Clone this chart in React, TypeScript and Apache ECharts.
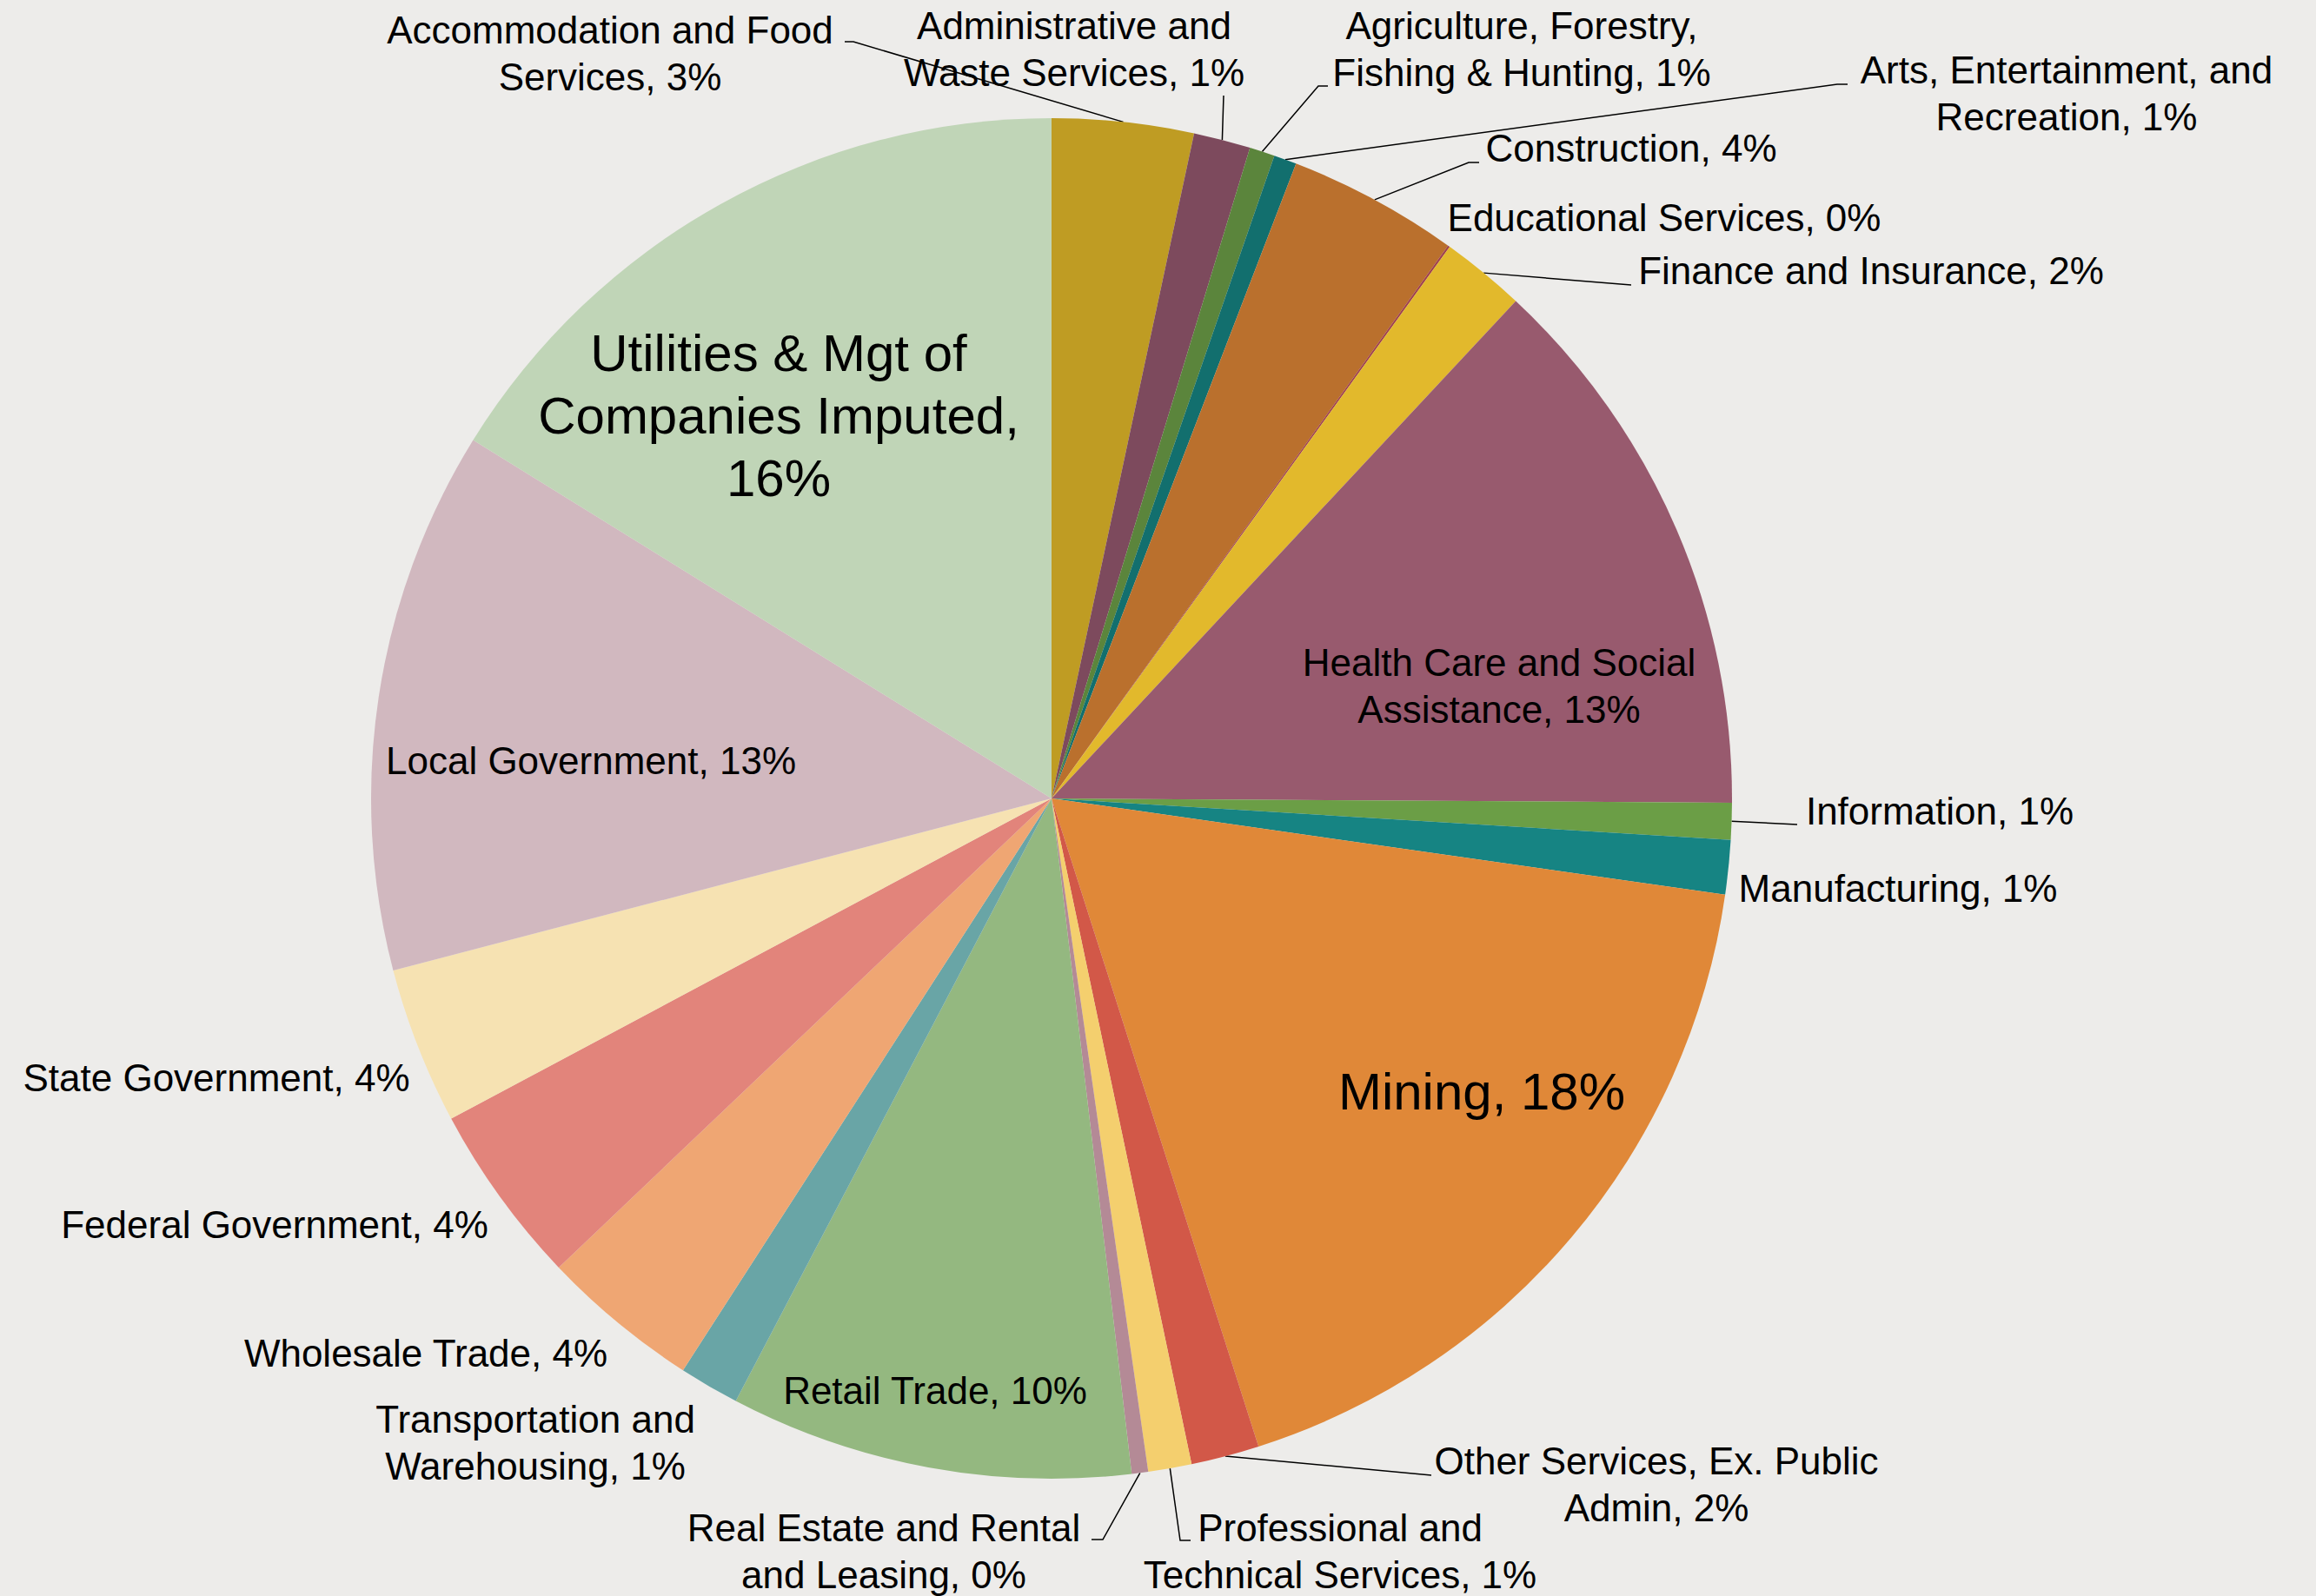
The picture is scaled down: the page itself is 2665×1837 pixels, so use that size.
import React, { useEffect, useRef } from "react";
import * as echarts from "echarts";

// ---- data ----
const categories = [
  "Accommodation and Food Services",
  "Administrative and Waste Services",
  "Agriculture, Forestry, Fishing & Hunting",
  "Arts, Entertainment, and Recreation",
  "Construction",
  "Educational Services",
  "Finance and Insurance",
  "Health Care and Social Assistance",
  "Information",
  "Manufacturing",
  "Mining",
  "Other Services, Ex. Public Admin",
  "Professional and Technical Services",
  "Real Estate and Rental and Leasing",
  "Retail Trade",
  "Transportation and Warehousing",
  "Wholesale Trade",
  "Federal Government",
  "State Government",
  "Local Government",
  "Utilities & Mgt of Companies Imputed",
];

// share of total, percent
const shares = [
  3.36, 1.35, 0.6, 0.54, 4.05, 0.05, 2.0, 13.15, 0.87, 1.29, 17.82, 1.62, 1.03,
  0.39, 9.56, 1.43, 3.78, 4.31, 3.73, 12.9, 16.17,
];

// label text as wrapped in the picture
const labelNames = [
  "Accommodation and Food\nServices",
  "Administrative and\nWaste Services",
  "Agriculture, Forestry,\nFishing & Hunting",
  "Arts, Entertainment, and\nRecreation",
  "Construction",
  "Educational Services",
  "Finance and Insurance",
  "Health Care and Social\nAssistance",
  "Information",
  "Manufacturing",
  "Mining",
  "Other Services, Ex. Public\nAdmin",
  "Professional and\nTechnical Services",
  "Real Estate and Rental\nand Leasing",
  "Retail Trade",
  "Transportation and\nWarehousing",
  "Wholesale Trade",
  "Federal Government",
  "State Government",
  "Local Government",
  "Utilities & Mgt of\nCompanies Imputed",
];

// ---- styles / layout ----
const colors = [
  "#BF9C23", "#7D4A5D", "#5B853C", "#126F6E", "#BA702D", "#A0414D", "#E2B92C",
  "#985A6E", "#6B9E46", "#168483", "#E08838", "#D25848", "#F4CF6E", "#B48A96",
  "#94B880", "#69A5A6", "#EFA673", "#E2847B", "#F6E2B2", "#D1B8BF", "#C0D5B7",
];
const bigLabel = [10, 20];
const insideLabel = [7, 10, 14, 19, 20];
const pctOnNewLine = [20];

const CX = 1210;
const CY = 919;
const R = 783;

const labelPos: number[][] = [
  [702, 61], [1236, 56], [1751, 56], [2378, 107], [1877, 170], [1915, 250],
  [2153, 311], [1725, 789], [2232, 933], [2184, 1022], [1705, 1256],
  [1906, 1708], [1542, 1785], [1017, 1785], [1076, 1600], [616, 1660],
  [490, 1557], [316, 1409], [249, 1240], [680, 875], [896, 478],
];

// leader-line points after the slice edge (null = no leader line)
const leaderPts: (number[][] | null)[] = [
  [[982, 48], [972, 48]],
  [[1408, 110]],
  [[1517, 99], [1528, 99]],
  [[2114, 97], [2126, 97]],
  [[1690, 187], [1702, 187]],
  null,
  [[1877, 328]],
  null,
  [[2068, 949]],
  null,
  null,
  [[1647, 1698]],
  [[1358, 1773], [1370, 1773]],
  [[1269, 1772], [1256, 1772]],
  null,
  null,
  null,
  null,
  null,
  null,
  null,
];

const FONT = "'Liberation Sans', Arial, sans-serif";

function edgePoint(i: number): number[] {
  const total = shares.reduce((a, b) => a + b, 0);
  let cum = 0;
  for (let k = 0; k < i; k++) cum += shares[k];
  const mid = ((cum + shares[i] / 2) / total) * Math.PI * 2;
  return [CX + R * Math.sin(mid), CY - R * Math.cos(mid)];
}

export default function App() {
  const ref = useRef<HTMLDivElement>(null);
  useEffect(() => {
    if (!ref.current) return;
    const chart = echarts.init(ref.current, undefined, { renderer: "svg" });
    const data = categories.map((name, i) => {
      const big = bigLabel.includes(i);
      const inside = insideLabel.includes(i);
      return {
        name,
        value: shares[i],
        itemStyle: { color: colors[i] },
        label: {
          position: inside ? "inside" : "outside",
          fontSize: big ? 60 : 44,
          lineHeight: big ? 72 : 54,
        },
        labelLine: { show: !!leaderPts[i] },
      };
    });
    chart.setOption({
      animation: false,
      backgroundColor: "#EDECEA",
      series: [
        {
          type: "pie",
          center: [CX, CY],
          radius: [0, R],
          startAngle: 90,
          clockwise: true,
          avoidLabelOverlap: false,
          minShowLabelAngle: 0,
          itemStyle: { borderWidth: 0 },
          emphasis: { disabled: true },
          label: {
            show: true,
            color: "#000",
            fontFamily: FONT,
            fontSize: 44,
            lineHeight: 54,
            align: "center",
            formatter: (p: any) =>
              labelNames[p.dataIndex] +
              (pctOnNewLine.includes(p.dataIndex) ? ",\n" : ", ") +
              Math.round(p.value) +
              "%",
          },
          labelLine: {
            show: true,
            length: 10,
            length2: 10,
            lineStyle: { color: "#000", width: 1.5 },
          },
          labelLayout: (params: any) => {
            const i = params.dataIndex;
            const p = labelPos[i];
            const res: any = {
              x: p[0],
              y: p[1],
              align: "center",
              verticalAlign: "middle",
            };
            const lp = leaderPts[i];
            if (lp) {
              const pts = [edgePoint(i), ...lp];
              if (pts.length === 2) pts.push(lp[lp.length - 1]);
              res.labelLinePoints = pts;
            }
            return res;
          },
          data,
        },
      ],
    });
    return () => chart.dispose();
  }, []);
  return (
    <div
      ref={ref}
      style={{
        position: "absolute",
        left: 0,
        top: 0,
        width: "2665px",
        height: "1837px",
      }}
    />
  );
}
